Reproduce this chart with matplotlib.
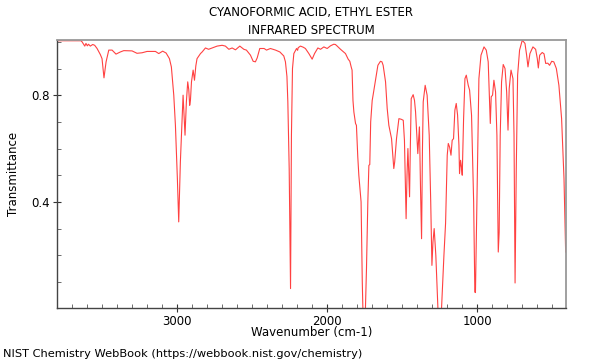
import matplotlib
matplotlib.use("Agg")
import matplotlib.pyplot as plt
from matplotlib.ticker import MultipleLocator

# spectrum (wavenumber in cm-1, transmittance)
wavenumber = [
    3800, 3640, 3633, 3615, 3607, 3598, 3590, 3578, 3562, 3549, 3533, 3511, 3500, 3487, 3473,
    3455, 3433, 3407, 3378, 3355, 3300, 3267, 3233, 3200, 3144, 3122, 3096, 3073, 3051, 3038,
    3022, 3011, 2998, 2989, 2978, 2967, 2960, 2953, 2947, 2938, 2929, 2922, 2916, 2911, 2904,
    2893, 2884, 2875, 2867, 2844, 2833, 2811, 2790, 2767, 2733, 2700, 2678, 2655, 2633, 2611,
    2582, 2555, 2538, 2511, 2493, 2478, 2466, 2449, 2420, 2404, 2378, 2344, 2315, 2289, 2278,
    2268, 2262, 2253, 2244, 2238, 2231, 2222, 2204, 2197, 2193, 2178, 2160, 2145, 2122, 2100,
    2084, 2062, 2044, 2022, 2000, 1978, 1956, 1945, 1935, 1911, 1878, 1860, 1849, 1840, 1834,
    1828, 1822, 1811, 1805, 1796, 1789, 1780, 1774, 1766, 1762, 1745, 1738, 1729, 1722, 1716,
    1710, 1700, 1694, 1678, 1662, 1645, 1635, 1627, 1611, 1600, 1589, 1571, 1563, 1556, 1550,
    1538, 1522, 1508, 1493, 1485, 1474, 1468, 1462, 1456, 1451, 1446, 1440, 1427, 1418, 1411,
    1396, 1390, 1385, 1378, 1371, 1365, 1360, 1347, 1334, 1320, 1310, 1302, 1295, 1287, 1276,
    1262, 1238, 1222, 1211, 1200, 1193, 1184, 1175, 1167, 1158, 1149, 1140, 1131, 1122, 1118,
    1111, 1105, 1100, 1091, 1082, 1073, 1060, 1051, 1038, 1024, 1016, 1012, 1005, 998, 989,
    975, 955, 940, 927, 918, 913, 907, 898, 889, 878, 869, 860, 854, 847, 838,
    827, 815, 804, 795, 787, 775, 762, 755, 748, 740, 731, 718, 700, 682, 671,
    662, 649, 629, 611, 600, 593, 584, 567, 555, 544, 530, 518, 504, 490, 473,
    456, 438, 422, 411,
]
transmittance = [
    1.004, 1.004, 1.000, 0.984, 0.994, 0.985, 0.991, 0.984, 0.990, 0.987, 0.975, 0.952, 0.937, 0.865, 0.925,
    0.969, 0.969, 0.954, 0.962, 0.967, 0.966, 0.957, 0.959, 0.964, 0.964, 0.956, 0.965, 0.958, 0.937, 0.906,
    0.800, 0.687, 0.487, 0.325, 0.550, 0.700, 0.800, 0.720, 0.650, 0.775, 0.850, 0.820, 0.762, 0.780, 0.850,
    0.894, 0.856, 0.910, 0.937, 0.956, 0.962, 0.977, 0.972, 0.977, 0.984, 0.987, 0.984, 0.972, 0.977, 0.970,
    0.984, 0.972, 0.969, 0.950, 0.927, 0.925, 0.940, 0.975, 0.975, 0.969, 0.975, 0.969, 0.962, 0.947, 0.925,
    0.870, 0.775, 0.525, 0.075, 0.650, 0.900, 0.956, 0.975, 0.968, 0.978, 0.984, 0.980, 0.975, 0.956, 0.935,
    0.956, 0.977, 0.972, 0.981, 0.975, 0.985, 0.991, 0.990, 0.985, 0.972, 0.956, 0.935, 0.927, 0.906, 0.894,
    0.780, 0.737, 0.694, 0.687, 0.569, 0.500, 0.440, 0.400, 0.100, 0.000, 0.000, 0.150, 0.400, 0.537, 0.540,
    0.700, 0.780, 0.800, 0.856, 0.912, 0.927, 0.925, 0.912, 0.850, 0.750, 0.687, 0.637, 0.580, 0.525, 0.550,
    0.637, 0.712, 0.710, 0.706, 0.630, 0.337, 0.500, 0.600, 0.500, 0.419, 0.600, 0.787, 0.802, 0.780, 0.737,
    0.581, 0.640, 0.681, 0.450, 0.262, 0.600, 0.775, 0.837, 0.800, 0.650, 0.400, 0.162, 0.250, 0.300, 0.200,
    0.000, 0.000, 0.200, 0.320, 0.575, 0.619, 0.605, 0.575, 0.631, 0.637, 0.744, 0.769, 0.725, 0.612, 0.506,
    0.556, 0.530, 0.500, 0.712, 0.862, 0.875, 0.837, 0.819, 0.725, 0.400, 0.062, 0.060, 0.300, 0.525, 0.862,
    0.950, 0.981, 0.969, 0.925, 0.775, 0.694, 0.794, 0.800, 0.856, 0.812, 0.650, 0.212, 0.287, 0.650, 0.850,
    0.915, 0.900, 0.812, 0.669, 0.825, 0.894, 0.862, 0.650, 0.096, 0.525, 0.875, 0.969, 1.006, 0.994, 0.950,
    0.906, 0.956, 0.981, 0.972, 0.937, 0.902, 0.950, 0.960, 0.955, 0.919, 0.920, 0.912, 0.927, 0.925, 0.900,
    0.837, 0.712, 0.487, 0.212,
]

title = "CYANOFORMIC ACID, ETHYL ESTER\nINFRARED SPECTRUM"
x_ticks = [3000, 2000, 1000]
y_ticks = [0.4, 0.8]

fig = plt.figure(figsize=(6, 3.6), dpi=100, facecolor='white')
ax = fig.add_axes([0.095, 0.145, 0.848, 0.744])

ax.plot(wavenumber, transmittance, color='#ff2020', linewidth=0.8, alpha=0.85)

ax.set_xlim(3800, 410)
ax.set_ylim(0.003, 1.007)
ax.set_xticks(x_ticks)
ax.set_yticks(y_ticks)
ax.xaxis.set_minor_locator(MultipleLocator(100))
ax.yaxis.set_minor_locator(MultipleLocator(0.1))
ax.tick_params(which='major', direction='inout', length=6, width=0.8, labelsize=8.5, colors='#333333',
               labelcolor='black', pad=2)
ax.tick_params(which='minor', direction='in', length=3, width=0.6, colors='#555555')

for side in ['top', 'right']:
    ax.spines[side].set_color('#999999')
    ax.spines[side].set_linewidth(1.3)
for side in ['left', 'bottom']:
    ax.spines[side].set_color('#444444')
    ax.spines[side].set_linewidth(1.0)

ax.set_title(title, fontsize=8.5, linespacing=1.5, pad=4)
ax.set_xlabel("Wavenumber (cm-1)", fontsize=8.5, labelpad=-1)
ax.set_ylabel("Transmittance", fontsize=8.5, labelpad=8)
fig.text(0.005, 0.008, "NIST Chemistry WebBook (https://webbook.nist.gov/chemistry)", fontsize=8.2)

plt.savefig("out.png", dpi=100, facecolor='white')
plt.close()
